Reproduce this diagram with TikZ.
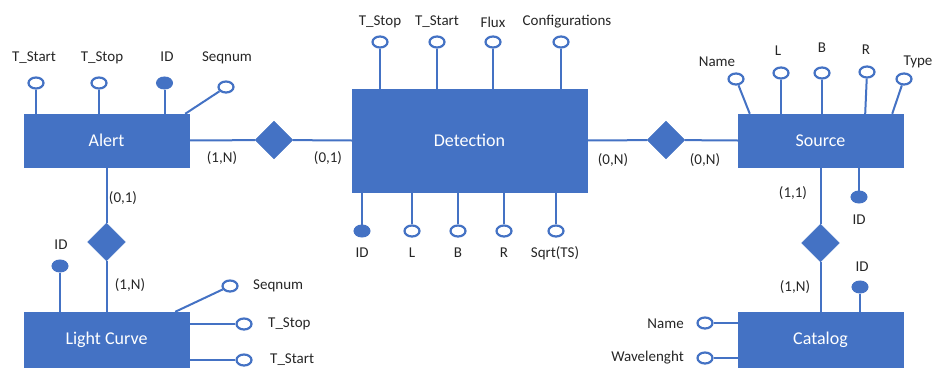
\documentclass[tikz,border=0pt]{standalone}
\usepackage{fontspec}
\setmainfont{Carlito}
\usetikzlibrary{shapes.geometric}
\definecolor{erblue}{HTML}{4472C4}
\definecolor{txt}{HTML}{262626}
\tikzset{
  entity/.style={rectangle, fill=erblue, draw=erblue, minimum width=165pt, minimum height=53pt, inner sep=0pt, text=white, font=\fontsize{18}{20}\selectfont},
  rel/.style={diamond, fill=erblue, draw=erblue, aspect=1, minimum width=38pt, minimum height=38pt, inner sep=0pt},
  attr/.style={ellipse, draw=erblue, line width=2.2pt, fill=white, minimum width=15pt, minimum height=11pt, inner sep=0pt},
  keyattr/.style={ellipse, draw=erblue, line width=1pt, fill=erblue, minimum width=16pt, minimum height=12pt, inner sep=0pt},
  lbl/.style={text=txt, font=\fontsize{15}{17}\selectfont, inner sep=0pt},
  conn/.style={draw=erblue, line width=2pt},
}
\begin{document}
\begin{tikzpicture}[x=1pt,y=-1pt]
\useasboundingbox (0,0) rectangle (934,367);
% entities
\node[entity, minimum width=165pt, minimum height=53pt] (alert) at (106.5,140.5) {Alert};
\node[entity, minimum width=235pt, minimum height=103pt] (det) at (469.5,140.5) {Detection};
\node[entity] (src) at (820.5,140.5) {Source};
\node[entity, minimum height=55pt] (lc) at (106.5,339.5) {Light Curve};
\node[entity, minimum height=55pt] (cat) at (820.5,339.5) {Catalog};
% relationships
\node[rel] (r1) at (274,140) {};
\node[rel] (r2) at (106.5,242) {};
\node[rel] (r3) at (666,140) {};
\node[rel] (r4) at (820.5,243) {};
% connectors between entities
\draw[conn] (alert.east) -- (r1) -- (det.west);
\draw[conn] (alert.south) -- (r2) -- (lc.north);
\draw[conn] (det.east) -- (r3) -- (src.west);
\draw[conn] (src.south) -- (r4) -- (cat.north);
% Alert attributes
\node[attr] (a1) at (36,83) {};
\node[attr] (a2) at (99,83) {};
\node[keyattr] (a3) at (164.5,83) {};
\node[attr] (a4) at (226,87) {};
\draw[conn] (a1) -- (a1 |- alert.north);
\draw[conn] (a2) -- (a2 |- alert.north);
\draw[conn] (a3) -- (a3 |- alert.north);
\draw[conn] (a4) -- ([xshift=-4pt]alert.north east);
\node[lbl] (la1) at (34,58) {T\_Start};
\node[lbl] (la2) at (102,58) {T\_Stop};
\node[lbl] (la3) at (167,57) {ID};
\node[lbl] (la4) at (227,58) {Seqnum};
% Light curve attributes
\node[keyattr] (l1) at (60,266) {};
\node[attr] (l2) at (230,286) {};
\node[attr] (l3) at (244,324) {};
\node[attr] (l4) at (244,360) {};
\draw[conn] (l1) -- (l1 |- lc.north);
\draw[conn] (l2) -- ([xshift=-14pt]lc.north east);
\draw[conn] (l3) -- (l3 -| lc.east);
\draw[conn] (l4) -- (l4 -| lc.east);
\node[lbl] (ll1) at (61,245) {ID};
\node[lbl, anchor=west] (ll2) at (253,286) {Seqnum};
\node[lbl, anchor=west] (ll3) at (268,324) {T\_Stop};
\node[lbl, anchor=west] (ll4) at (270,360) {T\_Start};
% Detection attributes top
\node[attr] (d1) at (380,42) {};
\node[attr] (d2) at (437,42) {};
\node[attr] (d3) at (493,42) {};
\node[attr] (d4) at (561,42) {};
\foreach \n in {d1,d2,d3,d4} \draw[conn] (\n) -- (\n |- det.north);
\node[lbl] (ld1) at (380,22) {T\_Stop};
\node[lbl] (ld2) at (437,22) {T\_Start};
\node[lbl] (ld3) at (493,22) {Flux};
\node[lbl] (ld4) at (567,22) {Configurations};
% Detection attributes bottom
\node[keyattr] (d5) at (362,231) {};
\node[attr] (d6) at (412,231) {};
\node[attr] (d7) at (458,231) {};
\node[attr] (d8) at (504,231) {};
\node[attr] (d9) at (556,231) {};
\foreach \n in {d5,d6,d7,d8,d9} \draw[conn] (\n) -- (\n |- det.south);
\node[lbl] (ld5) at (362,253) {ID};
\node[lbl] (ld6) at (412,253) {L};
\node[lbl] (ld7) at (458,253) {B};
\node[lbl] (ld8) at (504,253) {R};
\node[lbl] (ld9) at (555,253) {Sqrt(TS)};
% Source attributes
\node[attr] (s1) at (736,79) {};
\node[attr] (s2) at (781,73) {};
\node[attr] (s3) at (822,73) {};
\node[attr] (s4) at (867,72) {};
\node[attr] (s5) at (904,79) {};
\node[keyattr] (s6) at (859,197) {};
\draw[conn] (s1) -- ([xshift=12pt]src.north west);
\draw[conn] (s2) -- (s2 |- src.north);
\draw[conn] (s3) -- (s3 |- src.north);
\draw[conn] (s4) -- ([xshift=-38pt]src.north east);
\draw[conn] (s5) -- ([xshift=-11pt]src.north east);
\draw[conn] (s6) -- (s6 |- src.south);
\node[lbl] (ls1) at (717,62) {Name};
\node[lbl] (ls2) at (778,51) {L};
\node[lbl] (ls3) at (822,48) {B};
\node[lbl] (ls4) at (866,50) {R};
\node[lbl] (ls5) at (918,62) {Type};
\node[lbl] (ls6) at (859,220) {ID};
% Catalog attributes
\node[keyattr] (c1) at (860,287) {};
\node[attr] (c2) at (705,323) {};
\node[attr] (c3) at (705,358) {};
\draw[conn] (c1) -- (c1 |- cat.north);
\draw[conn] (c2) -- (c2 -| cat.west);
\draw[conn] (c3) -- (c3 -| cat.west);
\node[lbl] (lc1) at (862,267) {ID};
\node[lbl, anchor=east] (lc2) at (684,324) {Name};
\node[lbl, anchor=east] (lc3) at (684,358) {Wavelenght};
% cardinalities
\node[lbl] (k1) at (222,158) {(1,N)};
\node[lbl] (k2) at (328,158) {(0,1)};
\node[lbl] (k3) at (613,160) {(0,N)};
\node[lbl] (k4) at (705,160) {(0,N)};
\node[lbl] (k5) at (123,198) {(0,1)};
\node[lbl] (k6) at (130,285) {(1,N)};
\node[lbl] (k7) at (793,193) {(1,1)};
\node[lbl] (k8) at (795,287) {(1,N)};
\end{tikzpicture}
\end{document}
